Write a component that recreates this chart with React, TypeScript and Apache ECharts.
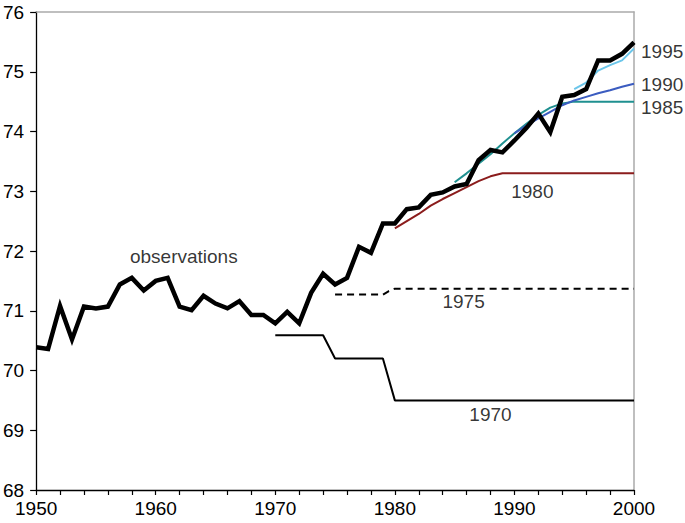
import React, { useEffect, useRef } from "react";
import * as echarts from "echarts";

const years: number[] = [];
for (let y = 1950; y <= 2000; y++) years.push(y);

const observations = [
  70.39, 70.36, 71.08, 70.52, 71.07, 71.04, 71.07, 71.44, 71.55, 71.34,
  71.5, 71.55, 71.07, 71.01, 71.25, 71.12, 71.04, 71.16, 70.93, 70.93,
  70.79, 70.98, 70.79, 71.3, 71.62, 71.44, 71.55, 72.07, 71.97, 72.46,
  72.46, 72.7, 72.73, 72.94, 72.98, 73.08, 73.12, 73.52, 73.69, 73.65,
  73.85, 74.06, 74.3, 73.99, 74.58, 74.61, 74.71, 75.19, 75.19, 75.3,
  75.49,
];

const proj1970: [number, number][] = [
  [1970, 70.59], [1974, 70.59], [1975, 70.2], [1979, 70.2], [1980, 69.5], [2000, 69.5],
];
const proj1975: [number, number][] = [
  [1975, 71.27], [1979, 71.27], [1979.5, 71.33], [1980, 71.37], [2000, 71.37],
];
const proj1980: [number, number][] = [
  [1980, 72.38], [1981, 72.5], [1982, 72.62], [1983, 72.76], [1984, 72.87],
  [1985, 72.97], [1986, 73.07], [1987, 73.17], [1988, 73.25], [1989, 73.3],
  [2000, 73.3],
];
const proj1985: [number, number][] = [
  [1985, 73.15], [1986, 73.3], [1987, 73.46], [1988, 73.62], [1989, 73.8],
  [1990, 73.97], [1991, 74.13], [1992, 74.28], [1993, 74.4], [1994, 74.47],
  [1995, 74.5], [2000, 74.5],
];
const proj1990: [number, number][] = [
  [1990, 73.97], [1991, 74.1], [1992, 74.22], [1993, 74.33], [1994, 74.44],
  [1995, 74.52], [1996, 74.58], [1997, 74.64], [1998, 74.69], [1999, 74.75],
  [2000, 74.8],
];
const proj1995: [number, number][] = [
  [1995, 74.71], [1996, 74.82], [1997, 75.02], [1998, 75.11], [1999, 75.19], [2000, 75.39],
];

// label anchors in data space
const innerLabels: { text: string; pos: [number, number] }[] = [
  { text: "observations", pos: [1962.35, 71.9] },
  { text: "1975", pos: [1985.75, 71.15] },
  { text: "1970", pos: [1988.0, 69.27] },
  { text: "1980", pos: [1991.5, 72.99] },
];
const rightLabels: { text: string; pos: [number, number] }[] = [
  { text: "1995", pos: [2000, 75.34] },
  { text: "1990", pos: [2000, 74.78] },
  { text: "1985", pos: [2000, 74.41] },
];

const FONT = "Liberation Sans, Arial, sans-serif";
const FS = 19;

export default function App() {
  const ref = useRef<HTMLDivElement>(null);
  useEffect(() => {
    if (!ref.current) return;
    const chart = echarts.init(ref.current, undefined, { renderer: "svg" });
    const line = (data: [number, number][], color: string, width: number, type: any = "solid", z = 2) => ({
      type: "line",
      data,
      symbol: "none",
      lineStyle: { color, width, type },
      z,
      silent: true,
    });
    chart.setOption({
      animation: false,
      backgroundColor: "#ffffff",
      grid: { left: 34, right: 51, top: 12, bottom: 33, containLabel: false },
      xAxis: [
        {
          type: "value",
          min: 1950,
          max: 2000,
          interval: 2,
          position: "bottom",
          axisLine: { show: true, lineStyle: { color: "#000", width: 1.3 } },
          axisTick: { show: true, length: 5, lineStyle: { color: "#000", width: 1.2 } },
          axisLabel: {
            formatter: (v: number) => (v % 10 === 0 ? String(v) : ""),
            color: "#000",
            fontSize: FS,
            fontFamily: FONT,
            margin: 9,
          },
          splitLine: { show: false },
        },
        {
          type: "value",
          min: 1950,
          max: 2000,
          position: "top",
          axisLine: { show: true, lineStyle: { color: "#aaaaaa", width: 1.5 } },
          axisTick: { show: false },
          axisLabel: { show: false },
          splitLine: { show: false },
        },
      ],
      yAxis: [
        {
          type: "value",
          min: 68,
          max: 76,
          interval: 1,
          position: "left",
          axisLine: { show: true, lineStyle: { color: "#000", width: 1.3 } },
          axisTick: { show: true, length: 6, lineStyle: { color: "#000", width: 1.2 } },
          axisLabel: { color: "#000", fontSize: FS, fontFamily: FONT, margin: 12 },
          splitLine: { show: false },
        },
        {
          type: "value",
          min: 68,
          max: 76,
          position: "right",
          axisLine: { show: true, lineStyle: { color: "#aaaaaa", width: 1.5 } },
          axisTick: { show: false },
          axisLabel: { show: false },
          splitLine: { show: false },
        },
      ],
      series: [
        line(proj1970, "#000000", 2),
        line(proj1975, "#000000", 2, [7, 5]),
        line(proj1980, "#8b1c1c", 2),
        line(proj1985, "#1f9090", 2),
        line(proj1990, "#3b5cc0", 2),
        line(proj1995, "#6cc6ea", 2),
        {
          type: "line",
          data: years.map((y, i) => [y, observations[i]]),
          symbol: "none",
          lineStyle: { color: "#000000", width: 4.5, join: "miter" },
          z: 5,
          silent: true,
        },
        {
          type: "scatter",
          symbolSize: 0,
          silent: true,
          data: innerLabels.map((l) => ({ value: l.pos, name: l.text })),
          label: {
            show: true,
            position: "inside",
            formatter: (p: any) => p.name,
            color: "#000",
            fontSize: FS,
            fontFamily: FONT,
          },
          z: 6,
        },
        {
          type: "scatter",
          symbolSize: 0,
          silent: true,
          data: rightLabels.map((l) => ({ value: l.pos, name: l.text })),
          label: {
            show: true,
            position: "right",
            distance: 7,
            formatter: (p: any) => p.name,
            color: "#000",
            fontSize: FS,
            fontFamily: FONT,
          },
          z: 6,
        },
      ],
    });
    return () => chart.dispose();
  }, []);
  return (
    <div
      ref={ref}
      style={{ position: "fixed", left: 0, top: 0, width: 685, height: 523 }}
    />
  );
}
